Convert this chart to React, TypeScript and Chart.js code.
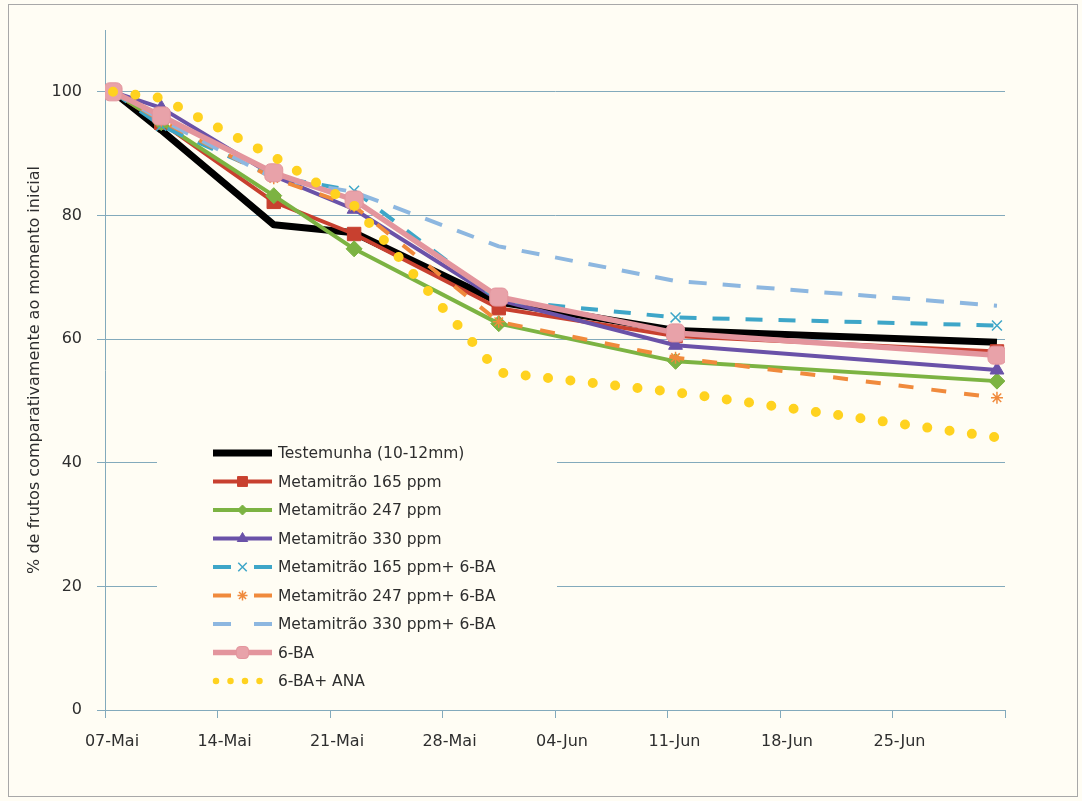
import React, { useEffect, useRef } from 'react';
import { Chart, registerables } from 'chart.js';
import { drawPoint } from 'chart.js/helpers';

Chart.register(...registerables);

// Days after 07-Mai for each observation
const dayOffsets = [0, 3, 10, 15, 24, 35, 55];
const xTickPositions = [-0.5, 6.5, 13.5, 20.5, 27.5, 34.5, 41.5, 48.5, 55.5];
const xTickLabels = ['07-Mai', '14-Mai', '21-Mai', '28-Mai', '04-Jun', '11-Jun', '18-Jun', '25-Jun', ''];
const yTickValues = [0, 20, 40, 60, 80, 100];

const seriesNames = [
  'Testemunha (10-12mm)',
  'Metamitrão 165 ppm',
  'Metamitrão 247 ppm',
  'Metamitrão 330 ppm',
  'Metamitrão 165 ppm+ 6-BA',
  'Metamitrão 247 ppm+ 6-BA',
  'Metamitrão 330 ppm+ 6-BA',
  '6-BA',
  '6-BA+ ANA',
];

const testemunha = [100, 93.8, 78.5, 77.2, 66.0, 61.4, 59.5];
const met165 = [100, 95.0, 82.2, 77.0, 65.0, 60.5, 58.0];
const met247 = [100, 95.0, 83.2, 74.6, 62.5, 56.4, 53.2];
const met330 = [100, 97.4, 86.4, 81.0, 66.3, 59.0, 55.0];
const met165ba = [100, 94.5, 86.3, 84.0, 66.3, 63.5, 62.2];
const met247ba = [100, 95.3, 86.0, 81.5, 62.8, 57.0, 50.5];
const met330ba = [100, 95.5, 86.0, 83.8, 75.0, 69.4, 65.4];
const ba6 = [100, 96.1, 86.9, 82.5, 66.8, 61.0, 57.4];
const ba6ana = [100, 99.0, 89.5, 81.6, 54.6, 51.4, 44.1];

const seriesValues = [testemunha, met165, met247, met330, met165ba, met247ba, met330ba, ba6, ba6ana];

const BG = '#FFFDF4';
const GRID = '#83AABC';
const TEXT = '#2E2E2E';
const FONT = 'DejaVu Sans';

type Style = {
  color: string;
  width: number;
  dash: number[];
  cap: CanvasLineCap;
  point: string | false;
  radius: number;
  pointFill: string;
  pointBorder: number;
  legendRadius: number;
};

const styles: Style[] = [
  { color: '#000000', width: 7, dash: [], cap: 'butt', point: false, radius: 0, pointFill: '#000', pointBorder: 0, legendRadius: 0 },
  { color: '#C8402F', width: 4, dash: [], cap: 'butt', point: 'rect', radius: 9.5, pointFill: '#C8402F', pointBorder: 1, legendRadius: 7 },
  { color: '#7CB342', width: 4, dash: [], cap: 'butt', point: 'rectRot', radius: 8, pointFill: '#7CB342', pointBorder: 1, legendRadius: 5 },
  { color: '#6A52A8', width: 4, dash: [], cap: 'butt', point: 'triangle', radius: 8, pointFill: '#6A52A8', pointBorder: 1, legendRadius: 6 },
  { color: '#3EA6C8', width: 4, dash: [17, 16], cap: 'butt', point: 'crossRot', radius: 7, pointFill: '#3EA6C8', pointBorder: 1.5, legendRadius: 6 },
  { color: '#F08A3C', width: 4, dash: [15, 18], cap: 'butt', point: 'star', radius: 6, pointFill: '#F08A3C', pointBorder: 1.5, legendRadius: 5 },
  { color: '#8DB7E0', width: 4, dash: [18, 16], cap: 'butt', point: false, radius: 0, pointFill: '#8DB7E0', pointBorder: 0, legendRadius: 0 },
  { color: '#E3959D', width: 5.5, dash: [], cap: 'butt', point: 'rectRounded', radius: 10.5, pointFill: '#E8A2A9', pointBorder: 1, legendRadius: 7 },
  { color: '#FFD21F', width: 10, dash: [0, 22.5], cap: 'round', point: false, radius: 0, pointFill: '#FFD21F', pointBorder: 0, legendRadius: 0 },
];

const framePlugin = {
  id: 'frame',
  beforeDraw(chart: any) {
    const ctx = chart.ctx as CanvasRenderingContext2D;
    ctx.save();
    ctx.fillStyle = BG;
    ctx.fillRect(0, 0, chart.width, chart.height);
    ctx.strokeStyle = '#A8A8A8';
    ctx.lineWidth = 1;
    ctx.strokeRect(8.5, 4.5, 1069, 792);
    ctx.restore();
  },
};

const legendPlugin = {
  id: 'insideLegend',
  afterDraw(chart: any) {
    const ctx = chart.ctx as CanvasRenderingContext2D;
    ctx.save();
    ctx.fillStyle = BG;
    ctx.fillRect(157, 437, 400, 262);
    const x0 = 213;
    const x1 = 272;
    const textX = 278;
    const startY = 453;
    const step = 28.5;
    seriesNames.forEach((name, i) => {
      const st = styles[i];
      const y = startY + i * step;
      ctx.save();
      ctx.strokeStyle = st.color;
      ctx.lineWidth = st.width;
      ctx.lineCap = st.cap;
      if (i === 8) {
        ctx.setLineDash([0, 14.5]);
        ctx.lineWidth = 6.5;
      } else if (i === 4 || i === 5 || i === 6) {
        ctx.setLineDash([18, 23]);
      } else {
        ctx.setLineDash([]);
      }
      ctx.beginPath();
      ctx.moveTo(x0 + (i === 8 ? 3 : 0), y);
      ctx.lineTo(x1, y);
      ctx.stroke();
      ctx.restore();
      if (st.point) {
        ctx.save();
        ctx.fillStyle = st.pointFill;
        ctx.strokeStyle = st.color;
        ctx.lineWidth = st.pointBorder;
        drawPoint(ctx, { pointStyle: st.point as any, rotation: 0, radius: st.legendRadius, borderWidth: st.pointBorder }, (x0 + x1) / 2, y);
        ctx.restore();
      }
      ctx.save();
      ctx.fillStyle = TEXT;
      ctx.font = `15.5px "${FONT}"`;
      ctx.textBaseline = 'middle';
      ctx.textAlign = 'left';
      ctx.fillText(name, textX, y + 1);
      ctx.restore();
    });
    ctx.restore();
  },
};

export default function App() {
  const canvasRef = useRef<HTMLCanvasElement | null>(null);

  useEffect(() => {
    const canvas = canvasRef.current;
    if (!canvas) return;
    const datasets = seriesNames.map((name, i) => {
      const st = styles[i];
      return {
        label: name,
        data: dayOffsets.map((d, j) => ({ x: d, y: seriesValues[i][j] })),
        borderColor: st.color,
        backgroundColor: st.pointFill,
        borderWidth: st.width,
        borderDash: st.dash,
        borderCapStyle: st.cap,
        borderJoinStyle: 'round' as const,
        pointStyle: st.point === false ? 'circle' : st.point,
        pointRadius: st.radius,
        pointBorderWidth: st.pointBorder,
        pointBorderColor: st.color,
        pointBackgroundColor: st.pointFill,
        tension: 0,
        fill: false,
        order: 8 - i,
      };
    });

    const chart = new Chart(canvas, {
      type: 'line',
      data: { datasets: datasets as any },
      options: {
        responsive: false,
        animation: false,
        devicePixelRatio: 1,
        layout: { padding: { left: 0, top: 30, right: 77, bottom: 0 } },
        plugins: {
          legend: { display: false },
          tooltip: { enabled: false },
          title: { display: false },
        },
        scales: {
          x: {
            type: 'linear',
            min: -0.5,
            max: 55.5,
            afterBuildTicks: (scale: any) => {
              scale.ticks = xTickPositions.map((v) => ({ value: v }));
            },
            afterFit: (scale: any) => {
              scale.height = 91;
            },
            grid: {
              display: true,
              drawOnChartArea: false,
              drawTicks: true,
              tickLength: 8,
              color: GRID,
            },
            border: { display: true, color: GRID, width: 1 },
            ticks: {
              autoSkip: false,
              maxRotation: 0,
              minRotation: 0,
              padding: 14,
              labelOffset: 7,
              color: TEXT,
              font: { family: FONT, size: 16 },
              callback: (_v: any, index: number) => xTickLabels[index] ?? '',
            },
          },
          y: {
            type: 'linear',
            min: 0,
            max: 110,
            afterBuildTicks: (scale: any) => {
              scale.ticks = yTickValues.map((v) => ({ value: v }));
            },
            afterFit: (scale: any) => {
              scale.width = 105;
            },
            grid: {
              display: true,
              drawOnChartArea: true,
              drawTicks: true,
              tickLength: 8,
              color: GRID,
            },
            border: { display: true, color: GRID, width: 1 },
            ticks: {
              padding: 15,
              color: TEXT,
              font: { family: FONT, size: 16 },
              callback: (v: any) => String(v),
            },
            title: {
              display: true,
              text: '% de frutos comparativamente ao momento inicial',
              color: TEXT,
              font: { family: FONT, size: 16 },
              padding: { top: 25, bottom: 0 },
            },
          },
        },
      },
      plugins: [framePlugin, legendPlugin],
    });
    return () => {
      chart.destroy();
    };
  }, []);

  return (
    <div style={{ position: 'fixed', left: 0, top: 0, width: 1082, height: 801, background: BG }}>
      <canvas ref={canvasRef} width={1082} height={801} style={{ display: 'block', width: 1082, height: 801 }} />
    </div>
  );
}
